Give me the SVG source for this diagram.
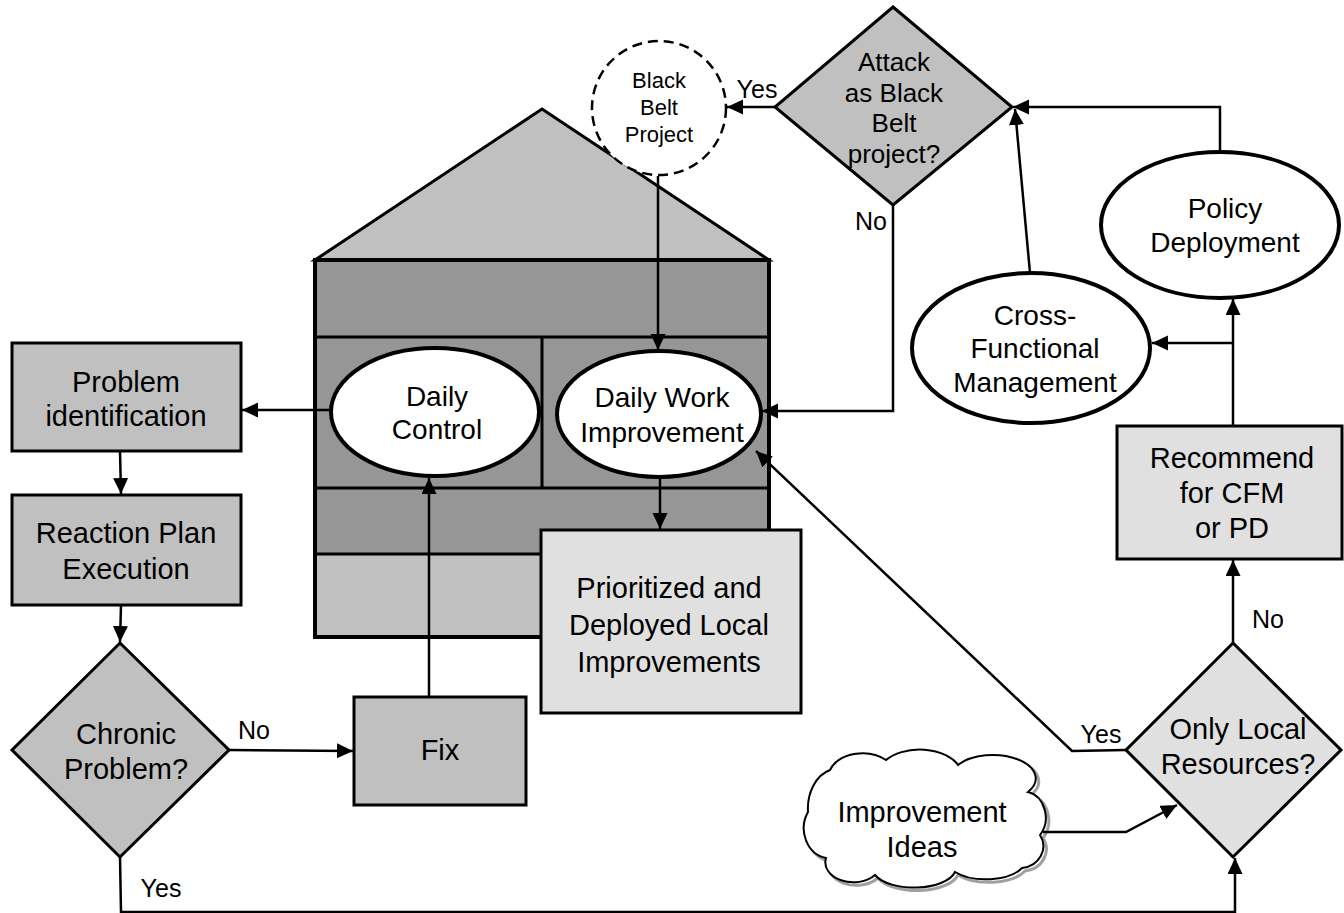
<svg xmlns="http://www.w3.org/2000/svg" width="1344" height="913" viewBox="0 0 1344 913">
<style>
text{font-family:"Liberation Sans",Arial,sans-serif;fill:#000;text-anchor:middle}
.t{font-size:29px}
.te{font-size:28px}
.lb{font-size:25px}
.ar{stroke:#000;stroke-width:2.5;fill:none;marker-end:url(#ah)}
.g{fill:#c0c0c0;stroke:#000;stroke-width:3}
.lt{fill:#e0e0e0;stroke:#000;stroke-width:3}
.el{fill:#fff;stroke:#000;stroke-width:4}
</style>
<defs>
<marker id="ah" markerUnits="userSpaceOnUse" markerWidth="18" markerHeight="16" refX="16" refY="7.5" orient="auto">
<path d="M0,0 L16,7.5 L0,15 z" fill="#000"/>
</marker>
<path id="cloud" d="M808,812 A30,40 0 0 1 830,770 A34,24 0 0 1 886,760 A42,26 0 0 1 958,765 A40,22 0 0 1 1028,792 A22,26 0 0 1 1040,835 A24,22 0 0 1 1022,868 A40,20 0 0 1 955,872 A42,20 0 0 1 875,875 A28,20 0 0 1 826,858 A26,30 0 0 1 808,812 Z"/>
</defs>
<rect width="1344" height="913" fill="#fff"/>

<g id="house">
<polygon points="315,260 542,109 769,260" fill="#c0c0c0" stroke="#000" stroke-width="3"/>
<rect x="315" y="260" width="454" height="294" fill="#969696"/>
<rect x="315" y="554" width="454" height="83" fill="#c0c0c0"/>
<path d="M315,337 H769 M315,488 H769 M315,554 H769 M542,337 V488" stroke="#000" stroke-width="3" fill="none"/>
<rect x="315" y="260" width="454" height="377" fill="none" stroke="#000" stroke-width="4"/>
</g>

<g id="black-belt">
<circle cx="659" cy="108" r="67" fill="#fff" stroke="#000" stroke-width="2.5" stroke-dasharray="10,6"/>
<text x="659" y="88" style="font-size:22px">Black</text>
<text x="659" y="115" style="font-size:22px">Belt</text>
<text x="659" y="142" style="font-size:22px">Project</text>
</g>

<g id="attack">
<polygon points="893,7 1012,107 893,205 775,107" class="g"/>
<text x="894" y="71" style="font-size:26px">Attack</text>
<text x="894" y="102" style="font-size:26px">as Black</text>
<text x="894" y="132" style="font-size:26px">Belt</text>
<text x="894" y="163" style="font-size:26px">project?</text>
</g>

<g id="daily-control">
<ellipse cx="435" cy="412" rx="104" ry="64" class="el"/>
<text x="437" y="406" class="te">Daily</text>
<text x="437" y="439" class="te">Control</text>
</g>

<g id="daily-work">
<ellipse cx="659" cy="414" rx="102" ry="63" class="el"/>
<text x="662" y="407" class="te">Daily Work</text>
<text x="662" y="442" class="te">Improvement</text>
</g>

<g id="prioritized">
<rect x="541" y="530" width="260" height="183" class="lt"/>
<text x="669" y="598" class="t">Prioritized and</text>
<text x="669" y="635" class="t">Deployed Local</text>
<text x="669" y="672" class="t">Improvements</text>
</g>

<g id="problem-identification">
<rect x="12" y="343" width="229" height="108" class="g"/>
<text x="126" y="392" class="t">Problem</text>
<text x="126" y="426" class="t">identification</text>
</g>

<g id="reaction-plan">
<rect x="12" y="495" width="229" height="110" class="g"/>
<text x="126" y="543" class="t">Reaction Plan</text>
<text x="126" y="579" class="t">Execution</text>
</g>

<g id="chronic">
<polygon points="120,643 229,750 120,857 12,750" class="g"/>
<text x="126" y="744" class="t">Chronic</text>
<text x="126" y="779" class="t">Problem?</text>
</g>

<g id="fix">
<rect x="354" y="697" width="172" height="108" class="g"/>
<text x="440" y="760" class="t">Fix</text>
</g>

<g id="policy-deployment">
<ellipse cx="1220" cy="225" rx="119" ry="73" class="el"/>
<text x="1225" y="218" class="te">Policy</text>
<text x="1225" y="252" class="te">Deployment</text>
</g>

<g id="cross-functional">
<ellipse cx="1031" cy="348" rx="119" ry="75" class="el"/>
<text x="1035" y="325" class="te">Cross-</text>
<text x="1035" y="358" class="te">Functional</text>
<text x="1035" y="392" class="te">Management</text>
</g>

<g id="recommend">
<rect x="1117" y="426" width="225" height="133" class="lt"/>
<text x="1232" y="468" class="t">Recommend</text>
<text x="1232" y="503" class="t">for CFM</text>
<text x="1232" y="538" class="t">or PD</text>
</g>

<g id="only-local">
<polygon points="1233,643 1341,750 1233,857 1126,750" class="lt"/>
<text x="1238" y="739" class="t">Only Local</text>
<text x="1238" y="774" class="t">Resources?</text>
</g>

<g id="improvement-ideas">
<use href="#cloud" transform="translate(3,3)" fill="none" stroke="#a0a0a0" stroke-width="3"/>
<use href="#cloud" fill="#fff" stroke="#000" stroke-width="2"/>
<text x="922" y="822" class="t">Improvement</text>
<text x="922" y="857" class="t">Ideas</text>
</g>

<g id="connectors">
<path class="ar" d="M331,410 H242"/>
<path class="ar" d="M120,451 L121,494"/>
<path class="ar" d="M121,605 L120,642"/>
<path class="ar" d="M229,750 L353,751"/>
<path class="ar" d="M429,697 V478"/>
<path class="ar" d="M120,857 L121,912 H1235 V858"/>
<path class="ar" d="M660,477 V529"/>
<path class="ar" d="M658,176 V350"/>
<path class="ar" d="M775,107 H727"/>
<path class="ar" d="M893,205 V411 H762"/>
<path class="ar" d="M1220,151 V107 H1013"/>
<path class="ar" d="M1030,273 L1015,109"/>
<path class="ar" d="M1233,426 V299"/>
<path class="ar" d="M1233,343 H1152"/>
<path class="ar" d="M1233,643 V560"/>
<path class="ar" d="M1126,750 L1072,751 L756,451"/>
<path class="ar" d="M1043,832 H1126 L1177,805"/>
<text x="757" y="98" class="lb">Yes</text>
<text x="871" y="230" class="lb">No</text>
<text x="254" y="739" class="lb">No</text>
<text x="161" y="897" class="lb">Yes</text>
<text x="1101" y="743" class="lb">Yes</text>
<text x="1268" y="628" class="lb">No</text>
</g>
</svg>
